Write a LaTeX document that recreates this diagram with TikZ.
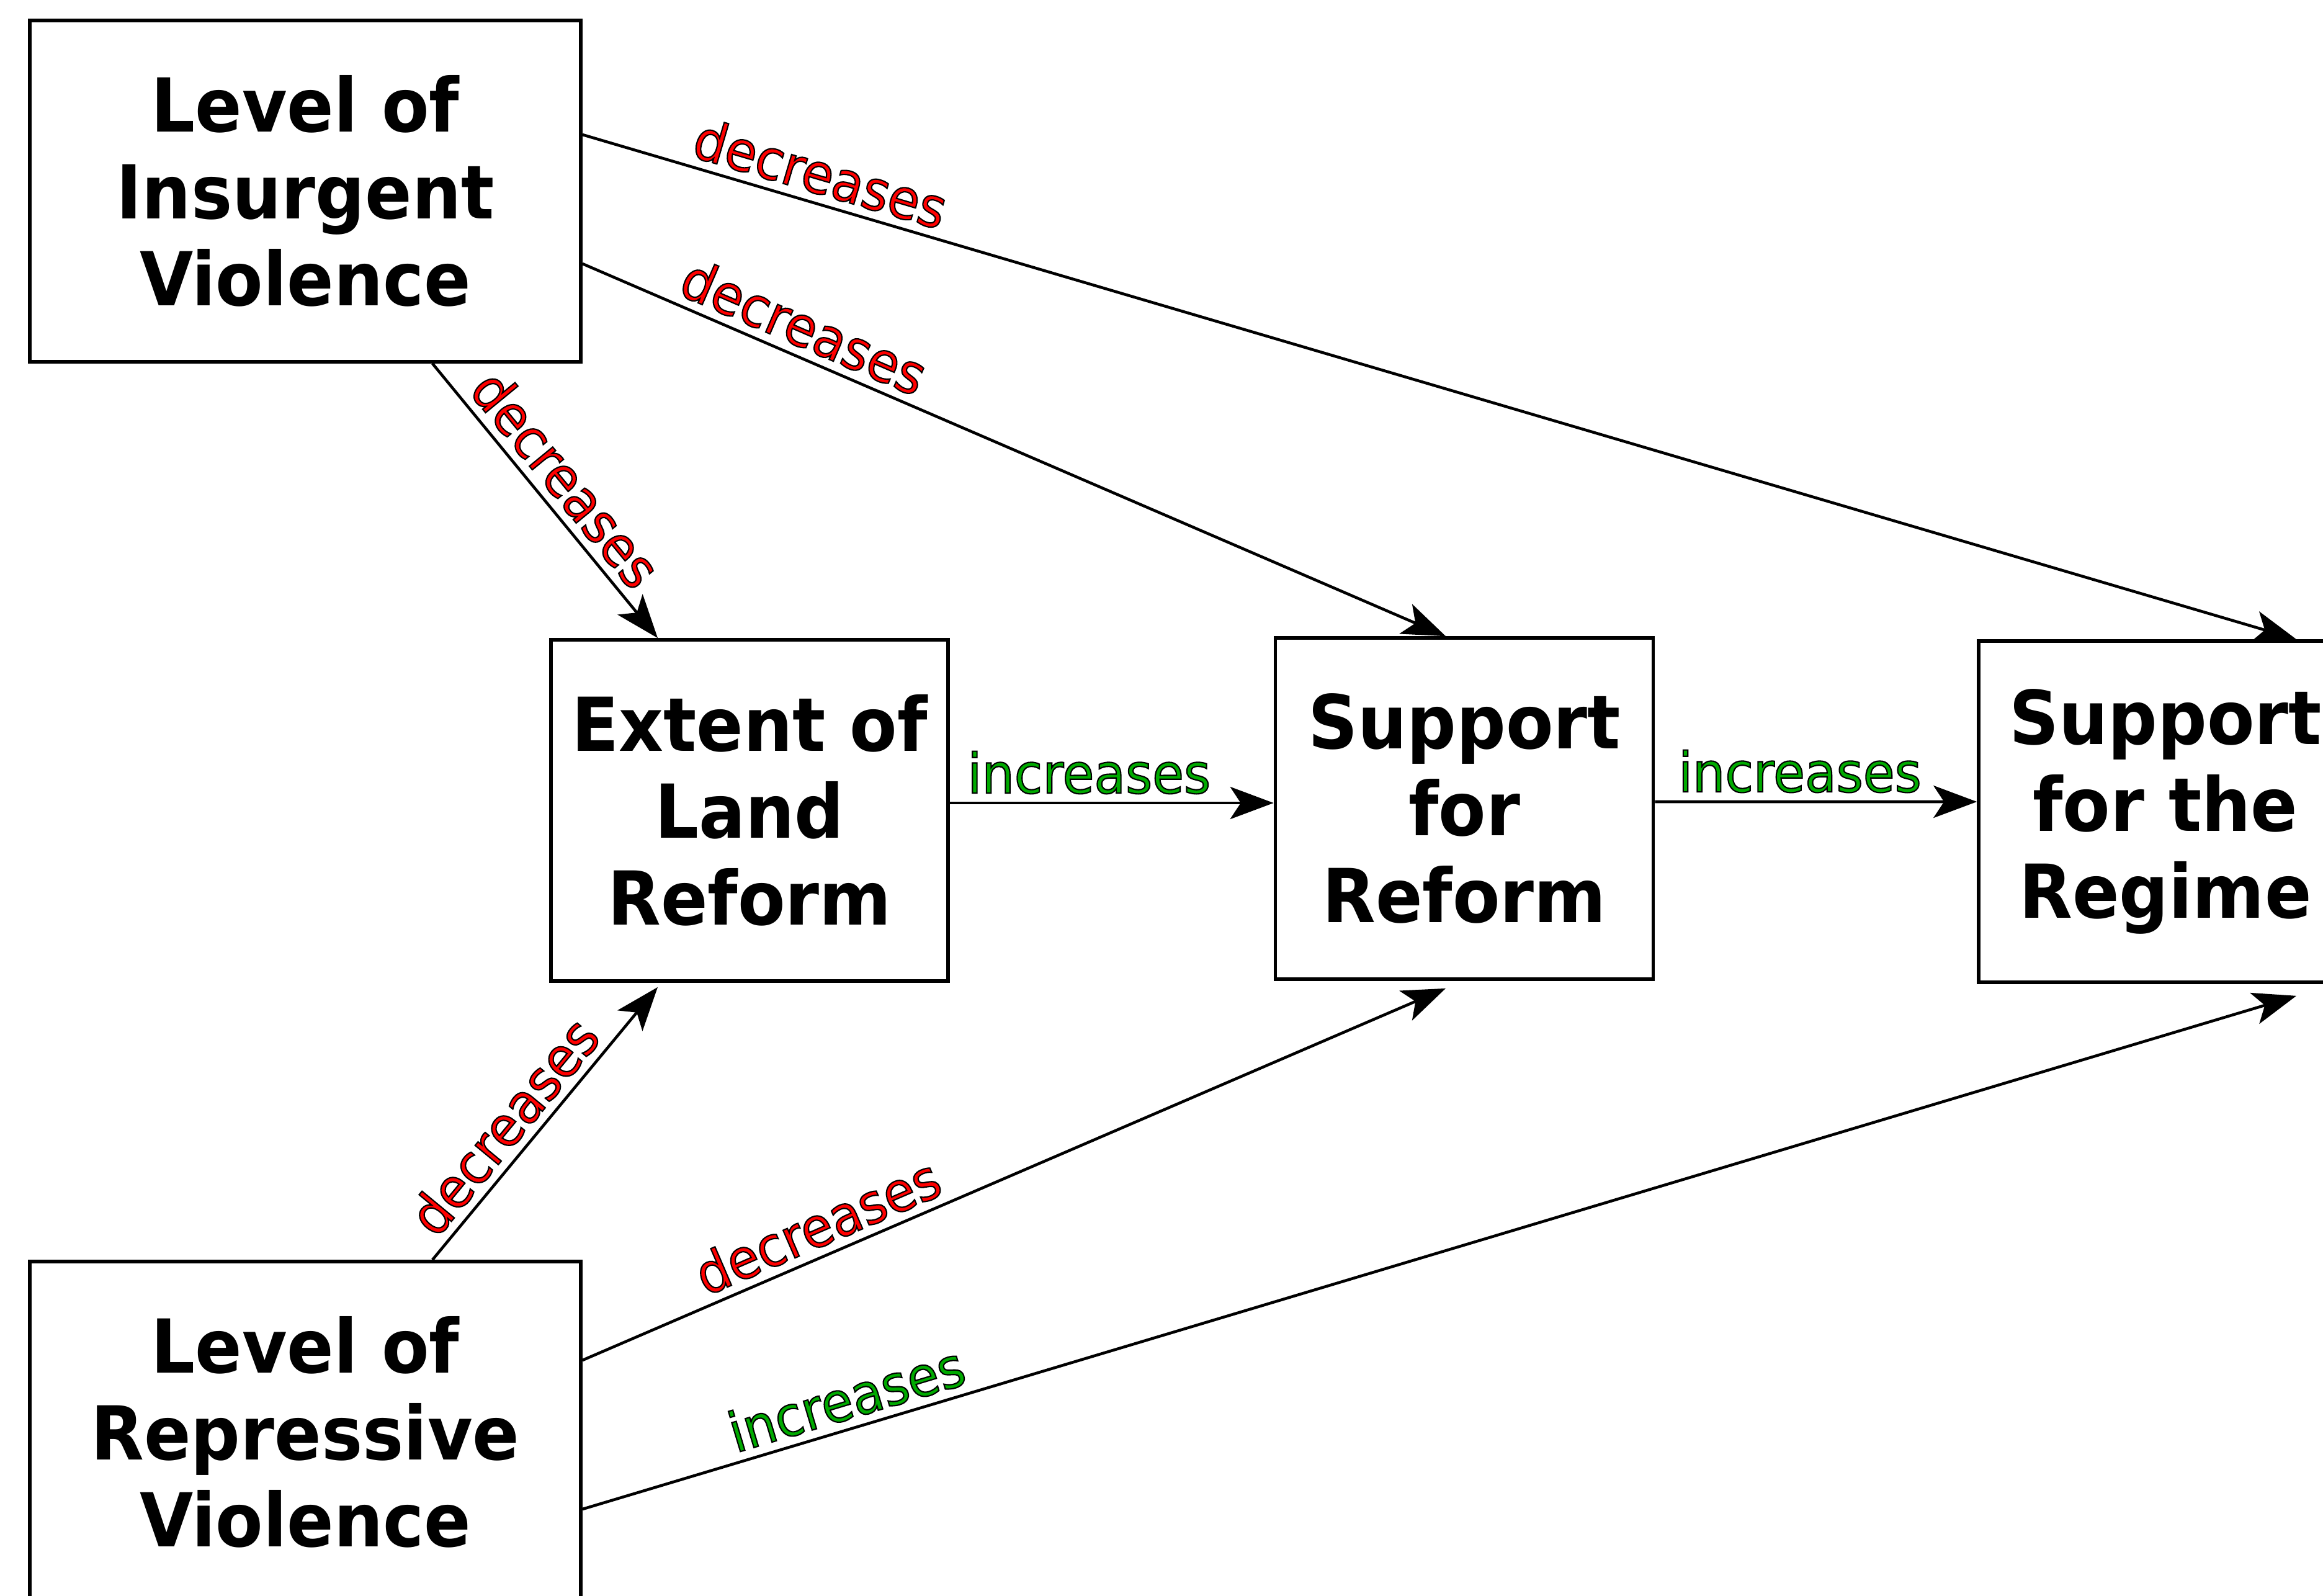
\documentclass[tikz,border=0pt]{standalone}
\usepackage{fontspec}
\setmainfont{DejaVu Sans}[FakeStretch=0.93]
\usetikzlibrary{arrows.meta}

\definecolor{decred}{RGB}{255,0,0}
\definecolor{incgreen}{RGB}{0,170,0}
\newcommand{\effect}[2]{\textcolor{#1}{\special{pdf:literal direct 2 Tr 0 G 0.6 w}#2\special{pdf:literal direct 0 Tr}}}

\begin{document}
\begin{tikzpicture}[
    factor/.style={draw, line width=1.6pt, minimum width=#1, minimum height=5.5cm,
        align=center, inner sep=0pt, font=\bfseries\fontsize{34.1}{39.8}\selectfont},
    factor/.default=6.05cm,
    link/.style={line width=1.3pt, -{Stealth[length=0.7cm, width=0.52cm, inset=0.17cm]}},
    lbl/.style={font=\fontsize{25.3}{30}\selectfont, sloped, above, inner sep=3.5pt}
  ]
    \useasboundingbox (0,0) rectangle (37.44,-25.71);
    % 	the five factors
        \node[factor=8.88cm] (insurgent) at (4.92,-3.08) {Level of\\Insurgent\\Violence};
        \node[factor=6.40cm] (land) at (12.08,-13.06) {Extent of\\Land\\Reform};
        \node[factor=6.09cm] (reform) at (23.60,-13.03) {Support\\for\\Reform};
        \node[factor=6.02cm] (regime) at (34.90,-13.08) {Support\\for the\\Regime};
        \node[factor=8.88cm] (repressive) at (4.92,-23.08) {Level of\\Repressive\\Violence};
    % 	effects of insurgent violence
        \draw [link] ([yshift=0.91cm]insurgent.east) -- node[lbl, pos=0.134] {\effect{decred}{decreases}} ([xshift=2.11cm]regime.north);
        \draw [link] ([yshift=-1.17cm]insurgent.east) -- node[lbl, pos=0.243] {\effect{decred}{decreases}} ([xshift=-0.30cm]reform.north);
        \draw [link] ([xshift=2.05cm]insurgent.south) -- node[lbl, pos=0.49] {\effect{decred}{decreases}} ([xshift=-1.48cm]land.north);
    % 	chain in the middle
        \draw [link] ([yshift=0.12cm]land.east) -- node[lbl, pos=0.43] {\effect{incgreen}{increases}} ([yshift=0.09cm]reform.west);
        \draw [link] ([yshift=0.11cm]reform.east) -- node[lbl, pos=0.45] {\effect{incgreen}{increases}} ([yshift=0.16cm]regime.west);
    % 	effects of repressive violence
        \draw [link] ([xshift=2.05cm]repressive.north) -- node[lbl, pos=0.42] {\effect{decred}{decreases}} ([xshift=-1.48cm,yshift=-0.07cm]land.south);
        \draw [link] ([yshift=1.16cm]repressive.east) -- node[lbl, pos=0.286] {\effect{decred}{decreases}} ([xshift=-0.30cm,yshift=-0.12cm]reform.south);
        \draw [link] ([yshift=-1.24cm]repressive.east) -- node[lbl, pos=0.159] {\effect{incgreen}{increases}} ([xshift=2.11cm,yshift=-0.19cm]regime.south);
    \end{tikzpicture}
\end{document}
